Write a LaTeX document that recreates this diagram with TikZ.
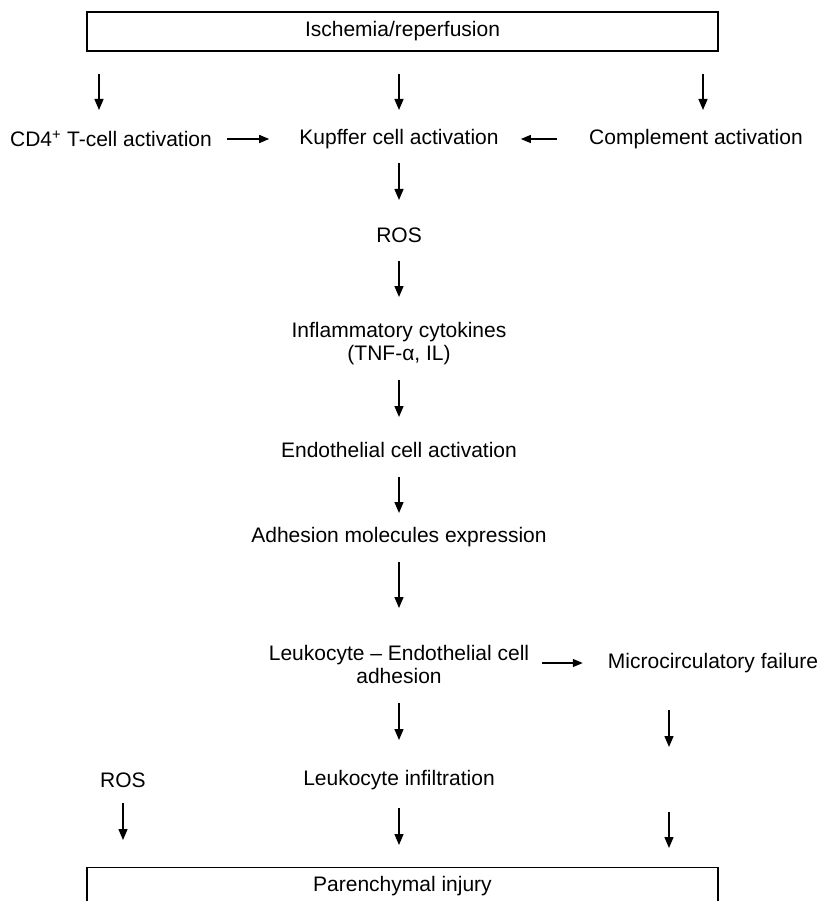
\documentclass[tikz,border=0pt]{standalone}
\usepackage{fontspec}
\setmainfont{Liberation Sans}
\usetikzlibrary{arrows.meta,positioning,calc}

\begin{document}
\begin{tikzpicture}[
  x=1pt, y=-1pt,
  every node/.style={font=\fontsize{21}{23}\selectfont, inner sep=0pt},
  box/.style={rectangle, draw, line width=1.4pt, minimum width=631pt},
  flow/.style={-{Triangle[length=11pt,width=9pt]}, line width=1.4pt},
  side/.style={-{Triangle[length=10pt,width=8pt]}, line width=1.4pt},
]
  \useasboundingbox (0,0) rectangle (822,901);

  %% Columns used by the side arrows
  \coordinate (colL) at (99,0);
  \coordinate (colR) at (703,0);
  \coordinate (gap) at (669,780);

  %% Top: trigger
  \node[box, minimum height=39pt] (isch) at (402.5,31.5) {Ischemia/reperfusion};

  %% Row 2: the three activations
  \node (cdfour) at (111,139) {CD4\textsuperscript{+} T-cell activation};
  \node (kupffer) at (399,139) {Kupffer cell activation};
  \node (compl) at (696,139) {Complement activation};

  %% Main cascade (centre column)
  \node (rosa) at (399,235) {ROS};
  \node[align=center] (cyto) at (399,343.5) {Inflammatory cytokines\\(TNF-α, IL)};
  \node (endo) at (399,450) {Endothelial cell activation};
  \node (adhes) at (399,537) {Adhesion molecules expression};
  \node[align=center] (leukendo) at (399,664.5) {Leukocyte \textendash{} Endothelial cell\\adhesion};
  \node (micro) at (713,663) {Microcirculatory failure};
  \node (rosb) at (123,780) {ROS};
  \node (infil) at (399,780) {Leukocyte infiltration};

  %% Bottom: outcome (runs off the page)
  \node[box, anchor=north, inner ysep=9pt, text height=15pt, text depth=30pt]
    (injury) at (402.5,867) {Parenchymal injury};

  %% Arrows from the trigger
  \draw[flow, shorten <=22pt, shorten >=29pt] (isch.south -| colL) -- (cdfour.center -| colL);
  \draw[flow, shorten <=22pt, shorten >=29pt] (isch.south -| kupffer) -- (kupffer.center);
  \draw[flow, shorten <=22pt, shorten >=29pt] (isch.south -| colR) -- (compl.center -| colR);

  %% Side inputs to Kupffer cells
  \draw[side, shorten <=15pt, shorten >=30pt] (cdfour.east) -- (kupffer.west);
  \draw[side, shorten <=32pt, shorten >=22pt] (compl.west) -- (kupffer.east);

  %% Centre column
  \draw[flow, shorten <=24pt, shorten >=35pt] (kupffer.center) -- (rosa.center);
  \draw[flow, shorten <=26pt, shorten >=46.5pt] (rosa.center) -- (cyto.center);
  \draw[flow, shorten <=36.5pt, shorten >=33pt] (cyto.center) -- (endo.center);
  \draw[flow, shorten <=27pt, shorten >=24pt] (endo.center) -- (adhes.center);
  \draw[flow, shorten <=25pt, shorten >=56.5pt] (adhes.center) -- (leukendo.center);
  \draw[flow, shorten <=38.5pt, shorten >=40pt] (leukendo.center) -- (infil.center);
  \draw[side, shorten <=13pt, shorten >=25pt] (micro.west -| leukendo.east) -- (micro.west);

  %% Into the injury box
  \draw[flow, shorten <=47pt, shorten >=33pt] (micro.center -| gap) -- (gap);
  \draw[flow, shorten <=32pt, shorten >=19pt] (gap) -- (injury.north -| gap);
  \draw[flow, shorten <=23pt, shorten >=27pt] (rosb.center) -- (injury.north -| rosb);
  \draw[flow, shorten <=28pt, shorten >=22pt] (infil.center) -- (injury.north -| infil);
\end{tikzpicture}
\end{document}
